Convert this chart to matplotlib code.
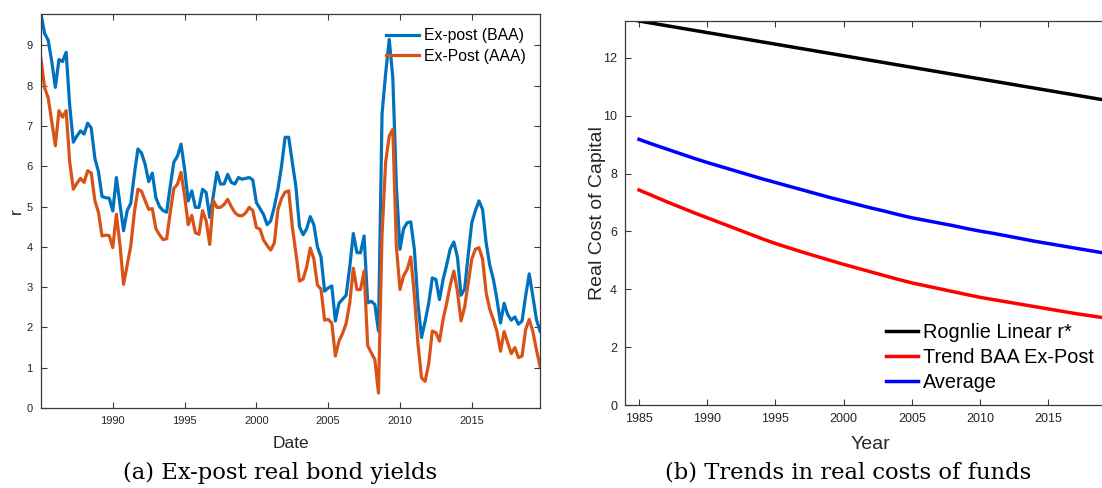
import numpy as np
import matplotlib
matplotlib.use("Agg")
import matplotlib.pyplot as plt

plt.rcParams['font.family'] = ['Liberation Sans', 'DejaVu Sans']

# --------------------------------------------------
# (a) Ex-post real bond yields, quarterly 1985Q1 - 2019Q4
# --------------------------------------------------
dates = 1985 + np.arange(140) / 4.0

baa = [9.78, 9.30, 9.13, 8.60, 7.96, 8.65, 8.60, 8.83, 7.50, 6.60,
       6.75, 6.88, 6.80, 7.07, 6.95, 6.20, 5.87, 5.25, 5.22, 5.21,
       4.89, 5.72, 5.05, 4.40, 4.90, 5.08, 5.80, 6.43, 6.33, 6.05,
       5.62, 5.83, 5.22, 5.00, 4.90, 4.86, 5.50, 6.10, 6.25, 6.55,
       5.93, 5.14, 5.39, 4.98, 4.98, 5.43, 5.35, 4.73, 5.27, 5.85,
       5.56, 5.56, 5.80, 5.60, 5.56, 5.72, 5.68, 5.70, 5.72, 5.66,
       5.10, 4.95, 4.80, 4.55, 4.65, 5.00, 5.43, 6.00, 6.72, 6.72,
       6.10, 5.50, 4.50, 4.30, 4.45, 4.75, 4.55, 4.00, 3.75, 2.90,
       2.98, 3.03, 2.16, 2.60, 2.70, 2.80, 3.50, 4.33, 3.86, 3.85,
       4.27, 2.61, 2.65, 2.57, 1.91, 7.30, 8.30, 9.15, 8.20, 5.50,
       3.94, 4.45, 4.60, 4.62, 3.94, 2.60, 1.75, 2.15, 2.60, 3.23,
       3.19, 2.69, 3.19, 3.55, 3.95, 4.12, 3.75, 2.80, 2.95, 3.80,
       4.60, 4.90, 5.14, 4.93, 4.10, 3.55, 3.20, 2.70, 2.11, 2.60,
       2.32, 2.18, 2.26, 2.08, 2.16, 2.78, 3.33, 2.78, 2.20, 1.91]

aaa = [8.67, 7.95, 7.70, 7.10, 6.51, 7.38, 7.22, 7.38, 6.10, 5.43,
       5.58, 5.70, 5.60, 5.89, 5.83, 5.15, 4.86, 4.27, 4.29, 4.28,
       3.98, 4.81, 4.05, 3.07, 3.55, 4.02, 4.85, 5.43, 5.38, 5.15,
       4.93, 4.95, 4.45, 4.30, 4.18, 4.20, 4.85, 5.45, 5.55, 5.85,
       5.27, 4.55, 4.78, 4.35, 4.31, 4.90, 4.65, 4.06, 5.15, 4.98,
       4.98, 5.05, 5.18, 5.00, 4.85, 4.78, 4.77, 4.84, 4.98, 4.90,
       4.48, 4.44, 4.17, 4.03, 3.92, 4.10, 4.93, 5.20, 5.36, 5.39,
       4.50, 3.85, 3.15, 3.20, 3.50, 3.97, 3.70, 3.05, 2.95, 2.18,
       2.20, 2.11, 1.29, 1.66, 1.85, 2.10, 2.60, 3.47, 2.94, 2.94,
       3.40, 1.55, 1.37, 1.20, 0.37, 4.30, 6.10, 6.75, 6.92, 4.00,
       2.94, 3.28, 3.44, 3.75, 2.80, 1.60, 0.75, 0.66, 1.10, 1.91,
       1.87, 1.66, 2.20, 2.60, 3.05, 3.40, 2.90, 2.16, 2.50, 3.10,
       3.70, 3.94, 3.98, 3.70, 2.86, 2.45, 2.20, 1.90, 1.41, 1.90,
       1.62, 1.35, 1.50, 1.25, 1.29, 1.95, 2.20, 1.90, 1.45, 1.04]

left_xticks = [1990, 1995, 2000, 2005, 2010, 2015]
left_yticks = list(range(0, 10))

# --------------------------------------------------
# (b) Trends in real costs of funds, yearly
# --------------------------------------------------
years = np.arange(1985, 2021)

rognlie = [13.27, 13.19, 13.11, 13.03, 12.95, 12.87, 12.79, 12.71, 12.63, 12.55,
           12.47, 12.39, 12.31, 12.23, 12.15, 12.07, 11.99, 11.91, 11.83, 11.75,
           11.67, 11.59, 11.51, 11.43, 11.35, 11.27, 11.19, 11.11, 11.03, 10.95,
           10.87, 10.79, 10.71, 10.63, 10.55, 10.47]

trend_baa = [7.43, 7.23, 7.03, 6.84, 6.65, 6.47, 6.29, 6.11, 5.93, 5.75,
             5.58, 5.43, 5.28, 5.14, 5.00, 4.86, 4.73, 4.60, 4.47, 4.34,
             4.22, 4.12, 4.02, 3.92, 3.82, 3.72, 3.64, 3.56, 3.48, 3.40,
             3.32, 3.24, 3.16, 3.09, 3.02, 2.95]

average = [9.18, 9.01, 8.85, 8.69, 8.53, 8.38, 8.24, 8.10, 7.96, 7.82,
           7.69, 7.56, 7.43, 7.30, 7.17, 7.05, 6.93, 6.81, 6.70, 6.58,
           6.47, 6.38, 6.29, 6.20, 6.10, 6.01, 5.93, 5.84, 5.75, 5.66,
           5.58, 5.50, 5.42, 5.34, 5.26, 5.18]

# the panel is cut at the figure edge, so 2020 is not labelled
right_xticks = [1985, 1990, 1995, 2000, 2005, 2010, 2015]
right_yticks = [0, 2, 4, 6, 8, 10, 12]

W, H = 1102, 488
fig = plt.figure(figsize=(W / 100, H / 100), dpi=100)

axis_col = '#3a3a3a'
tick_col = '#262626'


def style_axes(ax, size):
    for s in ax.spines.values():
        s.set_color(axis_col)
        s.set_linewidth(0.9)
    ax.tick_params(direction='in', length=4, width=0.8, colors=axis_col,
                   labelcolor=tick_col, labelsize=size,
                   top=True, right=True, pad=6)


# left panel
ax1 = fig.add_axes([41 / W, 1 - 408 / H, 499 / W, 394 / H])
ax1.plot(dates, baa, color='#0072BD', lw=2.3, label='Ex-post (BAA)')
ax1.plot(dates, aaa, color='#D95319', lw=2.3, label='Ex-Post (AAA)')
ax1.set_xlim(dates[0], dates[-1])
ax1.set_ylim(0, max(baa))
ax1.set_xticks(left_xticks)
ax1.set_yticks(left_yticks)
style_axes(ax1, 8)
ax1.set_xlabel('Date', fontsize=12.5, color=tick_col, labelpad=7)
ax1.set_ylabel('r', fontsize=12.5, color=tick_col, labelpad=2)
ax1.legend(loc='upper left', bbox_to_anchor=(386 / W, 1 - 28 / H),
           bbox_transform=fig.transFigure, frameon=False, fontsize=11.3,
           handlelength=2.1, handletextpad=0.3, labelspacing=0.38,
           borderpad=0, borderaxespad=0)

# right panel (cut off at the right edge of the figure)
ax2 = fig.add_axes([625.4 / W, 1 - 405 / H, 491 / W, 384 / H])
ax2.plot(years, rognlie, color='black', lw=2.5, label='Rognlie Linear r*')
ax2.plot(years, trend_baa, color='red', lw=2.5, label='Trend BAA Ex-Post')
ax2.plot(years, average, color='blue', lw=2.5, label='Average')
ax2.set_xlim(1984, 2020)
ax2.set_ylim(0, rognlie[0])
ax2.set_xticks(right_xticks)
ax2.set_yticks(right_yticks)
style_axes(ax2, 9)
ax2.set_xlabel('Year', fontsize=14, color=tick_col, labelpad=8)
ax2.set_ylabel('Real Cost of Capital', fontsize=14, color=tick_col, labelpad=-2)
ax2.legend(loc='upper left', bbox_to_anchor=(886 / W, 1 - 323 / H),
           bbox_transform=fig.transFigure, frameon=False, fontsize=14.3,
           handlelength=1.6, handletextpad=0.25, labelspacing=0.3,
           borderpad=0, borderaxespad=0)

# captions
fig.text(280 / W, 1 - 473 / H, '(a) Ex-post real bond yields',
         ha='center', va='center', family='DejaVu Serif', fontsize=16.3)
fig.text(848 / W, 1 - 473 / H, '(b) Trends in real costs of funds',
         ha='center', va='center', family='DejaVu Serif', fontsize=16.3)

fig.savefig('out.png', dpi=100)
